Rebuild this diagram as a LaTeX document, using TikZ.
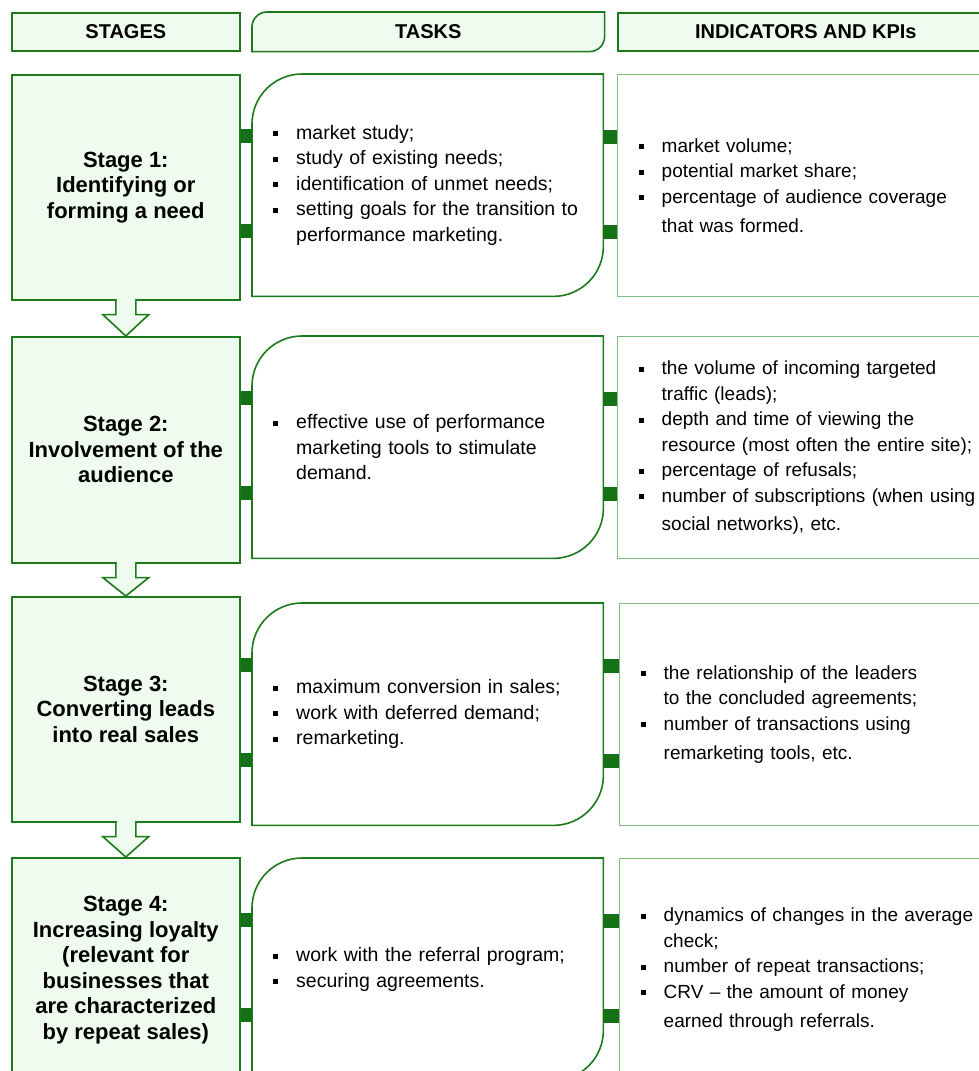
\documentclass[tikz,border=0pt]{standalone}
\usepackage{fontspec}
\setmainfont{Liberation Sans}
\usepackage{xcolor}
\usepackage{tikz}
\usetikzlibrary{calc,backgrounds}

\definecolor{StageGreen}{HTML}{1C7A1C}
\definecolor{StageFill}{HTML}{EEFBEE}
\definecolor{KpiGreen}{HTML}{7FBE7F}
\definecolor{LinkGreen}{HTML}{167016}

% bullet item with hanging indent
\newcommand\itm[1]{\noindent\hyphenpenalty=10000\hangindent=23pt\hangafter=1\makebox[23pt][l]{\rule[3pt]{5pt}{5pt}}#1\par}
\newcommand\brk[1][0pt]{\vadjust{\vskip#1}\newline}

\begin{document}
\begin{tikzpicture}[x=1pt,y=-1pt,line join=miter]

    \tikzstyle{headbox}=[draw=StageGreen, fill=StageFill, line width=1.6pt, anchor=north west, minimum height=38pt, inner sep=0pt, font=\fontsize{20}{24}\selectfont\bfseries]
    \tikzstyle{stagebox}=[draw=StageGreen, fill=StageFill, line width=1.6pt, anchor=north west, minimum width=228pt, inner sep=0pt, align=center, font=\fontsize{22}{25.5}\selectfont\bfseries]
    \tikzstyle{taskbox}=[anchor=north west, minimum width=351pt, minimum height=222pt, inner xsep=21pt, inner ysep=0pt, text width=309pt, align=left, font=\fontsize{19.5}{25.5}\selectfont]
    \tikzstyle{kpibox}=[taskbox, draw=KpiGreen, line width=1.4pt, minimum width=376pt, text width=400pt, font=\fontsize{19}{25.5}\selectfont] % runs off the right edge
    \tikzstyle{taskline}=[draw=StageGreen, line width=1.6pt]
    \tikzstyle{linkbar}=[fill=LinkGreen]

    \def \rad {50} % corner radius of the task boxes

    % frame with two round corners (top left, bottom right)
    \newcommand\taskframe[3][]{
        \draw[taskline, #1] (#2.south west) -- ($(#2.north west)+(0,#3)$) arc[start angle=180, end angle=270, radius=#3] -- (#2.north east) -- ($(#2.south east)+(0,-#3)$) arc[start angle=0, end angle=90, radius=#3] -- cycle;
    }
    % the two dark tabs between neighbouring boxes
    \newcommand\linkbars[2]{
        \fill[linkbar] ($(#1.east |- #2.west)+(0,-56)$) rectangle ($(#2.west)+(0,-42)$);
        \fill[linkbar] ($(#1.east |- #2.west)+(0,39)$) rectangle ($(#2.west)+(0,53)$);
    }
    % hollow block arrow from one stage down to the next
    \newcommand\stagearrow[2]{
        \draw[taskline, fill=StageFill] ($(#1.south)+(-10,0)$) -- ++(0,14) -- ++(-13,0) -- (#2.north) -- ($(#1.south)+(23,14)$) -- ++(-13,0) -- ++(0,-14);
        \fill[StageFill] ($(#1.south)+(-9.2,-1.5)$) rectangle ($(#1.south)+(9.2,2)$);
    }

    \useasboundingbox (0,0) rectangle (979,1071);
    \clip (0,0) rectangle (979,1071);

    % column heads
    \node[headbox, minimum width=228pt] (h_stages) at (11,12) {STAGES};
    \node[headbox, draw=none, fill=none, minimum width=351pt] (h_tasks) at (252,12) {TASKS};
    \node[headbox, minimum width=376pt] (h_kpis) at (617,12) {INDICATORS AND KPIs};
    \begin{pgfonlayer}{background}
        \taskframe[fill=StageFill]{h_tasks}{15}
    \end{pgfonlayer}

    % stages
    \node[stagebox, minimum height=225pt] (s1) at (11,74) {Stage 1:\\Identifying or\\forming a need};
    \node[stagebox, minimum height=226pt] (s2) at (11,336) {Stage 2:\\Involvement of the\\audience};
    \node[stagebox, minimum height=225pt] (s3) at (11,596) {Stage 3:\\Converting leads\\into real sales};
    \node[stagebox, minimum height=225pt] (s4) at (11,857) {Stage 4:\\Increasing loyalty\\(relevant for\\businesses that\\are characterized\\by repeat sales)};

    % tasks
    \node[taskbox] (t1) at (252,74) {\itm{market study;}\itm{study of existing needs;}\itm{identification of unmet needs;}\itm{setting goals for the transition to\newline performance marketing.}};
    \node[taskbox] (t2) at (252,336) {\itm{effective use of performance\newline marketing tools to stimulate\newline demand.}};
    \node[taskbox] (t3) at (252,603) {\itm{maximum conversion in sales;}\itm{work with deferred demand;}\itm{remarketing.}};
    \node[taskbox] (t4) at (252,858) {\itm{work with the referral program;}\itm{securing agreements.}};
    \taskframe{t1}{\rad}
    \taskframe{t2}{\rad}
    \taskframe{t3}{\rad}
    \taskframe{t4}{\rad}

    % indicators
    \node[kpibox] (k1) at (617,74) {\itm{market volume;}\itm{potential market share;}\itm{percentage of audience coverage\brk[4pt]that was formed.}};
    \node[kpibox] (k2) at (617,336) {\itm{the volume of incoming targeted\newline traffic (leads);}\itm{depth and time of viewing the\newline resource (most often the entire site);}\itm{percentage of refusals;}\itm{number of subscriptions (when using\brk[3pt]social networks), etc.}};
    \node[kpibox] (k3) at (619,603) {\itm{the relationship of the leaders\newline to the concluded agreements;}\itm{number of transactions using\brk[4pt]remarketing tools, etc.}};
    \node[kpibox] (k4) at (619,858) {\itm{dynamics of changes in the average\newline check;}\itm{number of repeat transactions;}\itm{CRV – the amount of money\brk[4pt]earned through referrals.}};

    % tabs between the columns
    \linkbars{s1}{t1} \linkbars{t1}{k1}
    \linkbars{s2}{t2} \linkbars{t2}{k2}
    \linkbars{s3}{t3} \linkbars{t3}{k3}
    \linkbars{s4}{t4} \linkbars{t4}{k4}

    % arrows down the stage column
    \stagearrow{s1}{s2}
    \stagearrow{s2}{s3}
    \stagearrow{s3}{s4}

\end{tikzpicture}
\end{document}
